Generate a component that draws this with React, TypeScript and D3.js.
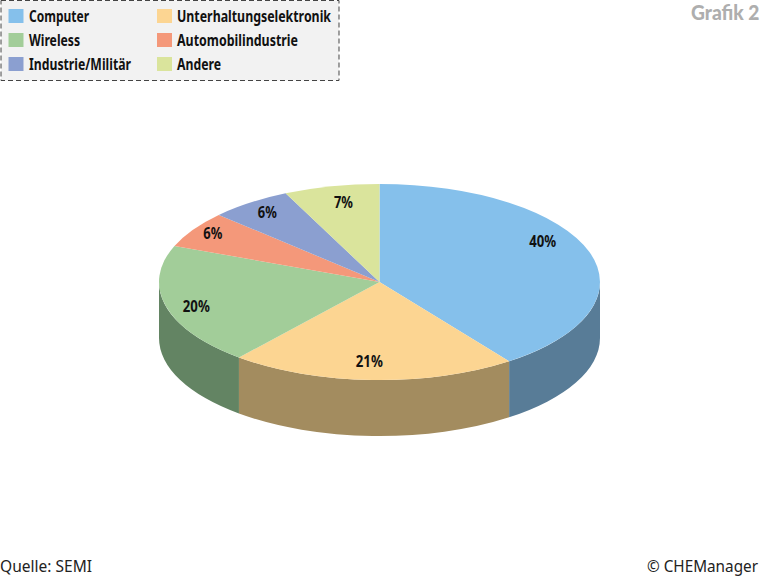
import React from 'react';
import * as d3 from 'd3';

const categories = ['Computer', 'Unterhaltungselektronik', 'Wireless', 'Automobilindustrie', 'Industrie/Militär', 'Andere'];
const shares = [40, 21, 20, 6, 6, 7];
const topColors = ['#85c0eb', '#fcd592', '#a2cd99', '#f4987a', '#8b9fd0', '#dae49c'];
const sideColors = ['#587c97', '#a38c5f', '#638463', '#a2654f', '#5c6a8a', '#919768'];

// legend reading order, it differs from the slice order
const legendLeft = ['Computer', 'Wireless', 'Industrie/Militär'];
const legendRight = ['Unterhaltungselektronik', 'Automobilindustrie', 'Andere'];
const legendWidths: Record<string, number> = {
  Computer: 60,
  Wireless: 51,
  'Industrie/Militär': 102,
  Unterhaltungselektronik: 154,
  Automobilindustrie: 121,
  Andere: 44,
};

// the labels were placed by hand in the original, nudge them off the slice centre
const labelNudges = [[6, -12], [-5, 11.5], [-23, 12], [-27, -3.6], [-15, -4.5], [0, -2]];

const width = 760;
const height = 578;
const cx = 379.5;
const cy = 282;
const rx = 220.5;
const ry = 98;
const depth = 56;

const font = '"Noto Sans", sans-serif';

const pie = d3.pie<number>().sort(null).value(d => d);
const slices = pie(shares);

const arc = d3.arc<d3.PieArcDatum<number>>().innerRadius(0).outerRadius(rx);

const rimX = (a: number) => rx * Math.sin(a);
const rimY = (a: number) => -ry * Math.cos(a);

// front wall of one slice, only the part between 3 and 9 o'clock can be seen
const wallPath = (start: number, end: number): string | null => {
  const a0 = Math.max(start, Math.PI / 2);
  const a1 = Math.min(end, (3 * Math.PI) / 2);
  if (a1 <= a0) return null;
  const large = a1 - a0 > Math.PI ? 1 : 0;
  return [
    `M${rimX(a0)},${rimY(a0)}`,
    `A${rx},${ry} 0 ${large} 1 ${rimX(a1)},${rimY(a1)}`,
    `L${rimX(a1)},${rimY(a1) + depth}`,
    `A${rx},${ry} 0 ${large} 0 ${rimX(a0)},${rimY(a0) + depth}`,
    'Z',
  ].join('');
};

const rowY = d3.scalePoint<number>().domain([0, 1, 2]).range([22, 70]);

const LegendColumn: React.FC<{ names: string[]; swatchX: number; textX: number }> = ({ names, swatchX, textX }) => (
  <g>
    {names.map((name, i) => (
      <g key={name}>
        <rect x={swatchX} y={(rowY(i) as number) - 13} width={15} height={14} fill={topColors[categories.indexOf(name)]} />
        <text
          x={textX}
          y={rowY(i)}
          fontFamily={font}
          fontWeight={700}
          fontSize={16}
          fill="#111"
          textLength={legendWidths[name]}
          lengthAdjust="spacingAndGlyphs"
        >
          {name}
        </text>
      </g>
    ))}
  </g>
);

export default function App() {
  return (
    <svg width={width} height={height} style={{ position: 'absolute', left: 0, top: 0 }}>
      <rect width={width} height={height} fill="#fff" />

      <rect x={1} y={0.5} width={338} height={80} fill="#f2f2f2" stroke="#444" strokeWidth={1} strokeDasharray="5 3" />
      <LegendColumn names={legendLeft} swatchX={8.5} textX={29} />
      <LegendColumn names={legendRight} swatchX={157} textX={177} />

      {/* Lato here, its ascent stays inside the page at this baseline */}
      <text transform="translate(691,20) scale(0.96,1)" fontFamily="Lato, sans-serif" fontWeight={900} fontSize={20} fill="#aeaeae">
        Grafik 2
      </text>

      <g transform={`translate(${cx},${cy})`}>
        {slices.map((s, i) => {
          const d = wallPath(s.startAngle, s.endAngle);
          return d ? <path key={categories[i]} d={d} fill={sideColors[i]} /> : null;
        })}
        <g transform={`scale(1,${ry / rx})`}>
          {slices.map((s, i) => (
            <path key={categories[i]} d={arc(s) as string} fill={topColors[i]} />
          ))}
        </g>
        {slices.map((s, i) => {
          const mid = (s.startAngle + s.endAngle) / 2;
          const x = 0.75 * rimX(mid) + labelNudges[i][0];
          const y = 0.75 * rimY(mid) + labelNudges[i][1];
          return (
            <text
              key={categories[i]}
              x={x}
              y={y}
              textAnchor="middle"
              fontFamily={font}
              fontWeight={700}
              fontSize={16}
              fill="#111"
              textLength={s.data >= 10 ? 27 : 19}
              lengthAdjust="spacingAndGlyphs"
            >
              {`${s.data}%`}
            </text>
          );
        })}
      </g>

      <text x={0} y={572} fontFamily={font} fontSize={17} fill="#222" textLength={92} lengthAdjust="spacingAndGlyphs">
        Quelle: SEMI
      </text>
      <text transform="translate(647,572) scale(0.9,1)" fontFamily={font} fontSize={17} fill="#222">
        © CHEManager
      </text>
    </svg>
  );
}
